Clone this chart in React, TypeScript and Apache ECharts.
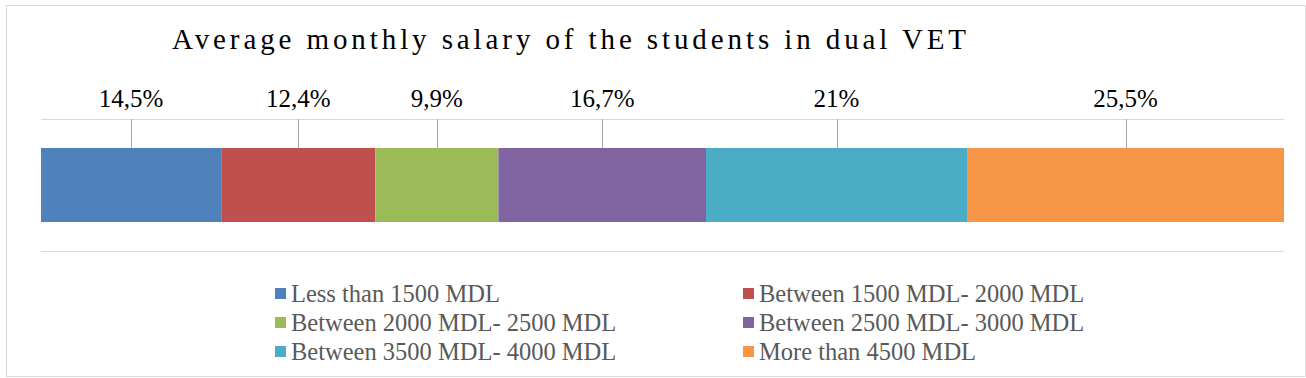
import React, { useEffect, useRef } from "react";
import * as echarts from "echarts";

const titleText = "Average monthly salary of the students in dual VET";
const categories = [
  "Less than 1500 MDL",
  "Between 1500 MDL- 2000 MDL",
  "Between 2000 MDL- 2500 MDL",
  "Between 2500 MDL- 3000 MDL",
  "Between 3500 MDL- 4000 MDL",
  "More than 4500 MDL",
];
const values = [14.5, 12.4, 9.9, 16.7, 21, 25.5];
const valueLabels = ["14,5%", "12,4%", "9,9%", "16,7%", "21%", "25,5%"];
const colors = ["#4f81bd", "#c0504d", "#9bbb59", "#8064a2", "#4bacc6", "#f79646"];
const legendLeft = [categories[0], categories[2], categories[4]];
const legendRight = [categories[1], categories[3], categories[5]];

export default function App() {
  const ref = useRef<HTMLDivElement>(null);
  useEffect(() => {
    if (!ref.current) return;
    const chart = echarts.init(ref.current, null, { renderer: "svg" });
    const FONT = '"Liberation Serif", "Times New Roman", serif';

    let acc = 0;
    const mids = values.map((v, i) => {
      const m = acc + v / 2;
      acc += v;
      return [m, 0, i];
    });

    const barSeries = categories.map((c, i) => ({
      name: c,
      type: "bar",
      stack: "total",
      barWidth: "56%",
      data: [values[i]],
      itemStyle: { color: colors[i] },
      emphasis: { disabled: true },
      silent: true,
    }));

    const legendCommon = {
      orient: "vertical",
      top: 281,
      padding: 0,
      itemWidth: 11,
      itemHeight: 11,
      itemGap: 4,
      icon: "rect",
      selectedMode: false,
      textStyle: { fontSize: 24.5, fontFamily: FONT, color: "#595959", lineHeight: 24 },
    };

    chart.setOption({
      animation: false,
      backgroundColor: "#ffffff",
      grid: { left: 41, right: 22, top: 119, height: 132, containLabel: false },
      xAxis: { type: "value", min: 0, max: 100, show: false },
      yAxis: {
        type: "category",
        data: [""],
        axisLine: { show: false },
        axisTick: { show: false },
        axisLabel: { show: false },
        splitLine: { show: true, lineStyle: { color: "#d9d9d9", width: 1 } },
      },
      legend: [
        { ...legendCommon, left: 275, data: legendLeft },
        { ...legendCommon, left: 743, data: legendRight },
      ],
      graphic: [
        {
          type: "rect",
          shape: { x: 6.5, y: 5.5, width: 1299, height: 371 },
          style: { fill: "none", stroke: "#d9d9d9", lineWidth: 1 },
          silent: true,
        },
        {
          type: "text",
          x: 172,
          y: 39,
          style: {
            text: titleText,
            fontSize: 29,
            fontFamily: FONT,
            fill: "#000000",
            align: "left",
            verticalAlign: "middle",
          },
          silent: true,
        },
      ],
      series: [
        ...barSeries,
        {
          type: "custom",
          silent: true,
          data: mids,
          renderItem: (params: any, api: any) => {
            const p = api.coord([api.value(0), 0]);
            const band = api.size([0, 1])[1];
            const barTop = p[1] - band * 0.28;
            const gridTop = p[1] - band / 2;
            const idx = api.value(2);
            return {
              type: "group",
              children: [
                {
                  type: "line",
                  shape: { x1: Math.round(p[0]) + 0.5, y1: barTop, x2: Math.round(p[0]) + 0.5, y2: gridTop },
                  style: { stroke: "#a6a6a6", lineWidth: 1 },
                },
                {
                  type: "text",
                  x: p[0],
                  y: gridTop - 20.5,
                  style: {
                    text: valueLabels[idx],
                    fontSize: 25,
                    fontFamily: FONT,
                    fill: "#000000",
                    align: "center",
                    verticalAlign: "middle",
                  },
                },
              ],
            };
          },
        },
      ],
    });
    return () => chart.dispose();
  }, []);

  return (
    <>
      <style>{`#chart-holder text[style*="29px"] { letter-spacing: 3.9px; }`}</style>
      <div
        id="chart-holder"
        ref={ref}
        style={{ position: "absolute", left: 0, top: 0, width: 1306, height: 378, background: "#fff" }}
      />
    </>
  );
}
